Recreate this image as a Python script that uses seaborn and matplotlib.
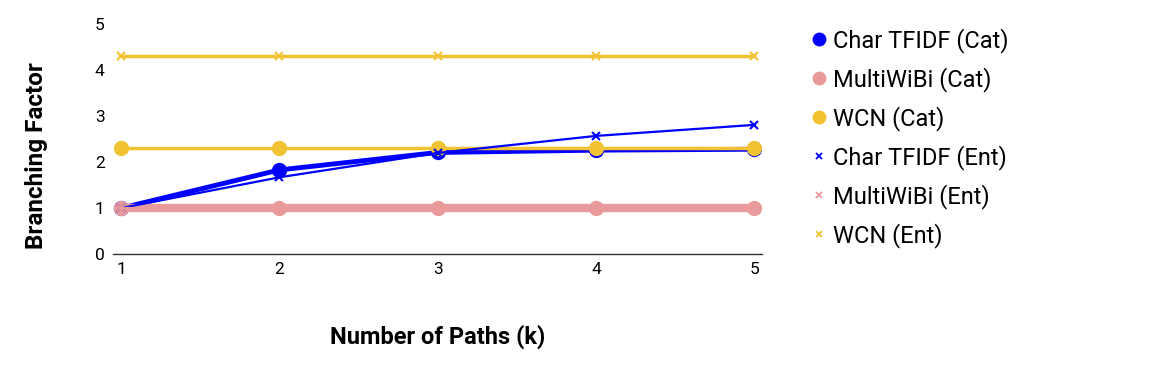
import matplotlib
matplotlib.use("Agg")
import matplotlib.pyplot as plt
from matplotlib.lines import Line2D
import pandas as pd
import seaborn as sns

# valori
paths = [1, 2, 3, 4, 5]
char_cat = [1.0, 1.83, 2.21, 2.26, 2.28]
multi_cat = [1.0, 1.0, 1.0, 1.0, 1.0]
wcn_cat = [2.3, 2.3, 2.3, 2.3, 2.3]
char_ent = [1.0, 1.67, 2.2, 2.57, 2.81]
multi_ent = [1.0, 1.0, 1.0, 1.0, 1.0]
wcn_ent = [4.3, 4.3, 4.3, 4.3, 4.3]

BLUE = "#0000ff"
PINK = "#e99a9a"
YELLOW = "#f1c232"

series = [
    ("Char TFIDF (Cat)", char_cat, BLUE, "o", 3.5, 11),
    ("MultiWiBi (Cat)", multi_cat, PINK, "o", 6, 11),
    ("WCN (Cat)", wcn_cat, YELLOW, "o", 2.5, 11),
    ("Char TFIDF (Ent)", char_ent, BLUE, "x", 1.6, 6),
    ("MultiWiBi (Ent)", multi_ent, PINK, "x", 1.6, 6),
    ("WCN (Ent)", wcn_ent, YELLOW, "x", 2.5, 6),
]

sns.set_theme(style="white")
plt.rcParams["font.family"] = ["Roboto", "DejaVu Sans"]

fig = plt.figure(figsize=(11.7, 3.71), dpi=100)
ax = fig.add_axes([0.0966, 0.315, 0.555, 0.62])

handles = []
for name, vals, color, marker, lw, ms in series:
    df = pd.DataFrame({"k": paths, "bf": vals})
    sns.lineplot(data=df, x="k", y="bf", ax=ax, color=color, linewidth=lw,
                 marker=marker, markersize=ms, markeredgecolor=color,
                 markeredgewidth=1.5 if marker == "x" else 0, legend=False)
    handles.append(Line2D([], [], color=color, marker=marker, linestyle="none",
                          markersize=10 if marker == "o" else 5,
                          markeredgewidth=1.3 if marker == "x" else 0,
                          markeredgecolor=color, label=name))

ax.set_xlim(0.95, 5.05)
ax.set_ylim(0, 5)
ax.set_xticks(paths)
ax.set_yticks([0, 1, 2, 3, 4, 5])
for s in ["top", "right", "left"]:
    ax.spines[s].set_visible(False)
ax.spines["bottom"].set_color("#333333")
ax.spines["bottom"].set_linewidth(1)
ax.tick_params(axis="both", labelsize=12.5, length=0, pad=6, colors="black")

ax.set_xlabel("Number of Paths (k)", fontsize=17, fontweight="bold", labelpad=34,
              color="black")
ax.set_ylabel("Branching Factor", fontsize=17.5, fontweight="bold",
              color="black")
ax.yaxis.set_label_coords(-0.10, 0.43)

fig.legend(handles=handles, loc="upper left", bbox_to_anchor=(0.674, 0.982),
           frameon=False, fontsize=17, labelspacing=0.6, handlelength=0.8,
           handletextpad=0.2, labelcolor="black")

fig.savefig("out.png", dpi=100)
